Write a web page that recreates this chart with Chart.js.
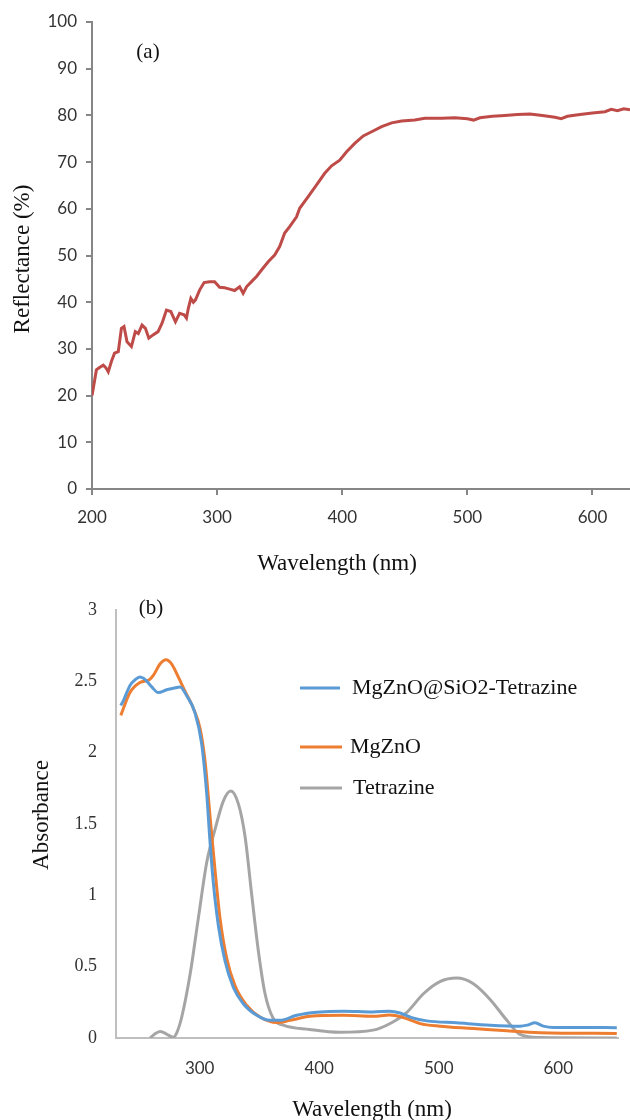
<!DOCTYPE html>
<html>
<head>
<meta charset="utf-8">
<script src="https://cdn.jsdelivr.net/npm/chart.js@4.4.0/dist/chart.umd.min.js"></script>
<style>
    html, body { margin: 0; padding: 0; background: #fff; }
    body { width: 630px; height: 1120px; position: relative; overflow: hidden; }
    canvas { position: absolute; left: 0; }
    #chartA { top: 0; }
    #chartB { top: 580px; }
</style>
</head>
<body>
<canvas id="chartA" width="630" height="580"></canvas>
<canvas id="chartB" width="630" height="540"></canvas>
<script>
// (a) diffuse reflectance
const reflNm  = [200, 201, 203.5, 206, 209, 211, 213, 215.5, 218, 221, 223.5, 225.6, 228, 231.5, 234.6, 237, 240, 242.7,
                 245.4, 248.8, 252.8, 256, 259.5, 263, 266.7, 270, 273.6, 275.5, 277, 279, 281, 282.7, 286, 289.6, 294, 298,
                 302, 306, 310, 314, 318, 320.8, 323.5, 327.5, 331.5, 335.5, 341, 346, 350, 354, 358, 363.5, 366, 372.8,
                 379.5, 386, 391.5, 398, 403.5, 410, 416.8, 423.5, 431.5, 439.5, 447.5, 458, 466, 479.5, 490, 500, 505,
                 510, 520, 530, 540, 550, 560, 570, 575, 580, 590, 600, 610, 615, 620, 625, 630];
const reflVal = [20.0, 21.5, 25.5, 26.0, 26.5, 26.0, 25.1, 27.3, 29.1, 29.4, 34.4, 34.8, 31.5, 30.5, 33.7, 33.3, 35.1, 34.4,
                 32.3, 33.0, 33.7, 35.5, 38.3, 38.0, 35.8, 37.6, 37.3, 36.6, 38.7, 40.8, 40.0, 40.5, 42.6, 44.2, 44.4, 44.4,
                 43.2, 43.1, 42.8, 42.5, 43.3, 41.9, 43.3, 44.4, 45.5, 46.9, 48.7, 50.1, 51.9, 54.8, 56.2, 58.3, 60.1, 62.6,
                 65.1, 67.6, 69.2, 70.4, 72.2, 74.0, 75.6, 76.5, 77.6, 78.4, 78.8, 79.0, 79.4, 79.4, 79.5, 79.3, 79.0,
                 79.5, 79.8, 80.0, 80.2, 80.3, 80.0, 79.6, 79.3, 79.8, 80.2, 80.5, 80.8, 81.3, 81.0, 81.4, 81.2];
const reflXTicks = [200, 300, 400, 500, 600];
const reflYTicks = [0, 10, 20, 30, 40, 50, 60, 70, 80, 90, 100];

// (b) UV-vis absorbance
const hybridNm  = [234, 236, 241.7, 246, 250, 253, 255.7, 259.9, 265.4, 272.4, 278, 283.6, 289, 296, 301.7, 305.9, 308.7,
                   311.4, 315.6, 321.2, 328.2, 336.5, 347.7, 358.9, 367.2, 381.2, 398, 420, 445, 459, 467.7, 477.4, 490,
                   515, 543, 568, 574, 580.6, 587.6, 596, 620, 649];
const hybridAbs = [2.33, 2.36, 2.47, 2.51, 2.53, 2.52, 2.50, 2.46, 2.42, 2.44, 2.45, 2.46, 2.40, 2.28, 2.06, 1.71, 1.37,
                   1.09, 0.79, 0.54, 0.354, 0.24, 0.159, 0.124, 0.124, 0.159, 0.18, 0.188, 0.182, 0.188, 0.175, 0.143, 0.12,
                   0.106, 0.09, 0.083, 0.09, 0.106, 0.083, 0.074, 0.074, 0.072];
const mgznoNm   = [234, 241.7, 250, 257.9, 261.2, 266.8, 271.8, 276.6, 282.1, 287.7, 294.7, 300.3, 304.5, 308.7, 312.8,
                   317, 322.6, 329.6, 339.4, 350.5, 364.5, 375.6, 392.3, 420, 445, 459, 470.4, 484.4, 501, 529, 557, 585, 649];
const mgznoAbs  = [2.26, 2.42, 2.49, 2.51, 2.54, 2.62, 2.65, 2.62, 2.53, 2.43, 2.31, 2.17, 1.94, 1.55, 1.18,
                   0.84, 0.56, 0.365, 0.228, 0.147, 0.108, 0.124, 0.152, 0.159, 0.152, 0.161, 0.143, 0.101, 0.083, 0.067,
                   0.05, 0.037, 0.032];
const tetNm     = [258.5, 262, 266.8, 270, 273.8, 278, 281, 285, 292, 298.9, 305.9, 312.8, 319.8, 326, 332.4, 338, 343.6,
                   349.1, 354.7, 361.6, 370, 392, 417, 445, 459, 473.3, 487.2, 501, 515, 529, 543, 557, 568, 585, 649];
const tetAbs    = [0.0, 0.025, 0.045, 0.038, 0.02, 0.005, 0.04, 0.147, 0.446, 0.84, 1.23, 1.46, 1.66, 1.73, 1.64, 1.41, 1.0,
                   0.61, 0.31, 0.136, 0.09, 0.06, 0.04, 0.055, 0.1, 0.18, 0.31, 0.395, 0.42, 0.38, 0.27, 0.124, 0.025,
                   0.003, 0.0];
const absXTicks = [300, 400, 500, 600];
const absYTicks = [0, 0.5, 1, 1.5, 2, 2.5, 3];

const serif = "'Liberation Serif', 'Times New Roman', serif";
const sans  = "Lato, 'Open Sans', sans-serif";

function toPoints(xs, ys) {
    return xs.map((x, i) => ({ x: x, y: ys[i] }));
}

// free text (panel tags, axis titles) placed like in the figure
function textPlugin(items) {
    return {
        id: 'extraText',
        afterDraw(chart) {
            const ctx = chart.ctx;
            items.forEach(item => {
                ctx.save();
                ctx.font         = item.font;
                ctx.fillStyle    = '#111';
                ctx.textAlign    = 'center';
                ctx.textBaseline = 'middle';
                ctx.translate(item.x, item.y);
                if (item.rotate) ctx.rotate(item.rotate);
                ctx.fillText(item.text, 0, 0);
                ctx.restore();
            });
        }
    };
}

const legendRows = [
    { x1: 300, x2: 340, tx: 352, y: 108 },
    { x1: 300, x2: 342, tx: 350, y: 167 },
    { x1: 300, x2: 342, tx: 353, y: 208 }
];

const legendPlugin = {
    id: 'sideLegend',
    afterDraw(chart) {
        const ctx = chart.ctx;
        chart.data.datasets.forEach((ds, i) => {
            const row = legendRows[i];
            ctx.save();
            ctx.strokeStyle = ds.borderColor;
            ctx.lineWidth   = 3;
            ctx.beginPath();
            ctx.moveTo(row.x1, row.y);
            ctx.lineTo(row.x2, row.y);
            ctx.stroke();
            ctx.font         = '22px ' + serif;
            ctx.fillStyle    = '#111';
            ctx.textBaseline = 'middle';
            ctx.fillText(ds.label, row.tx, row.y);
            ctx.restore();
        });
    }
};

new Chart(document.getElementById('chartA'), {
    type: 'line',
    data: {
        datasets: [
            {
                label      : 'Reflectance',
                data       : toPoints(reflNm, reflVal),
                borderColor: '#be4b48',
                borderWidth: 3,
                pointRadius: 0,
                tension    : 0
            }
        ]
    },
    options: {
        responsive      : false,
        animation       : false,
        devicePixelRatio: 1,
        layout : { padding: { top: 22, right: 0, bottom: 0, left: 0 } },
        plugins: { legend: { display: false }, tooltip: { enabled: false } },
        scales : {
            x: {
                type: 'linear', min: 200, max: 630,
                afterFit       : s => { s.height = 91; },
                afterBuildTicks: s => { s.ticks = reflXTicks.map(v => ({ value: v })); },
                grid  : { drawOnChartArea: false, color: '#868686', lineWidth: 2, tickLength: 6 },
                border: { color: '#868686', width: 2 },
                ticks : { font: { family: sans, size: 17 }, color: '#333', padding: 12, maxRotation: 0, autoSkip: false, callback: v => String(v) }
            },
            y: {
                type: 'linear', min: 0, max: 100,
                afterFit       : s => { s.width = 92; },
                afterBuildTicks: s => { s.ticks = reflYTicks.map(v => ({ value: v })); },
                grid  : { drawOnChartArea: false, color: '#868686', lineWidth: 2, tickLength: 6 },
                border: { color: '#868686', width: 2 },
                ticks : { font: { family: sans, size: 17 }, color: '#333', padding: 9, autoSkip: false, callback: v => String(v) }
            }
        }
    },
    plugins: [textPlugin([
        { text: '(a)', x: 148, y: 52, font: '21px ' + serif },
        { text: 'Reflectance (%)', x: 23, y: 259, font: '23px ' + serif, rotate: -Math.PI / 2 },
        { text: 'Wavelength (nm)', x: 337, y: 564, font: '23px ' + serif }
    ])]
});

new Chart(document.getElementById('chartB'), {
    type: 'line',
    data: {
        datasets: [
            { label: 'MgZnO@SiO2-Tetrazine', data: toPoints(hybridNm, hybridAbs), borderColor: '#5b9bd5' },
            { label: 'MgZnO',                data: toPoints(mgznoNm, mgznoAbs),   borderColor: '#ed7d31' },
            { label: 'Tetrazine',            data: toPoints(tetNm, tetAbs),       borderColor: '#a5a5a5' }
        ]
    },
    options: {
        responsive      : false,
        animation       : false,
        devicePixelRatio: 1,
        elements: {
            line : { borderWidth: 3, tension: 0.4, cubicInterpolationMode: 'monotone' },
            point: { radius: 0 }
        },
        layout : { padding: { top: 23, right: 12, bottom: 0, left: 0 } },
        plugins: { legend: { display: false }, tooltip: { enabled: false } },
        scales : {
            x: {
                type: 'linear', min: 230, max: 650,
                afterFit       : s => { s.height = 82; },
                afterBuildTicks: s => { s.ticks = absXTicks.map(v => ({ value: v })); },
                grid  : { display: false, drawTicks: false },
                border: { color: '#bfbfbf', width: 2 },
                ticks : { font: { family: sans, size: 17 }, color: '#333', padding: 20, maxRotation: 0, autoSkip: false, callback: v => String(v) }
            },
            y: {
                type: 'linear', min: 0, max: 3,
                afterFit       : s => { s.width = 116; },
                afterBuildTicks: s => { s.ticks = absYTicks.map(v => ({ value: v })); },
                grid  : { display: false, drawTicks: false },
                border: { color: '#bfbfbf', width: 2 },
                ticks : { font: { family: serif, size: 18 }, color: '#333', padding: 19, autoSkip: false, callback: v => String(v) }
            }
        }
    },
    plugins: [legendPlugin, textPlugin([
        { text: '(b)', x: 151, y: 28, font: '21px ' + serif },
        { text: 'Absorbance', x: 42, y: 235, font: '23px ' + serif, rotate: -Math.PI / 2 },
        { text: 'Wavelength (nm)', x: 372, y: 530, font: '23px ' + serif }
    ])]
});
</script>
</body>
</html>
